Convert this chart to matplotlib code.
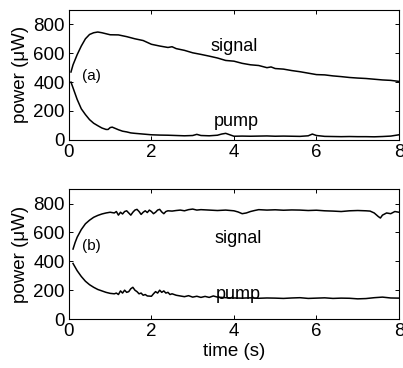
import matplotlib
matplotlib.use("Agg")
import matplotlib.pyplot as plt

plt.rcParams['font.family'] = ['Liberation Sans', 'DejaVu Sans']

# panel (a)
a_sig_t = [0.05, 0.1, 0.2, 0.3, 0.4, 0.5, 0.6, 0.7, 0.8, 0.9, 1.0, 1.2, 1.4, 1.6, 1.8, 2.0, 2.2, 2.4, 2.5,
           2.6, 2.8, 3.0, 3.2, 3.4, 3.6, 3.8, 4.0, 4.2, 4.4, 4.6, 4.8, 4.9, 5.0, 5.2, 5.4, 5.6, 5.8, 6.0,
           6.2, 6.4, 6.6, 6.8, 7.0, 7.2, 7.4, 7.6, 7.8, 8.0]
a_sig = [470, 520, 590, 650, 700, 730, 742, 747, 742, 735, 728, 727, 715, 700, 688, 662, 650, 640, 645,
         632, 620, 603, 592, 580, 567, 550, 545, 530, 520, 515, 500, 505, 494, 490, 480, 472, 462, 452,
         450, 443, 438, 432, 428, 425, 420, 415, 412, 405]

a_pump_t = [0.05, 0.1, 0.2, 0.3, 0.4, 0.5, 0.6, 0.7, 0.8, 0.9, 0.95, 1.0, 1.05, 1.1, 1.2, 1.3, 1.4, 1.5,
            1.6, 1.8, 2.0, 2.2, 2.4, 2.6, 2.8, 3.0, 3.1, 3.2, 3.4, 3.6, 3.7, 3.8, 3.9, 4.0, 4.2, 4.4,
            4.6, 4.8, 5.0, 5.2, 5.4, 5.6, 5.8, 5.9, 6.0, 6.2, 6.4, 6.6, 6.8, 7.0, 7.2, 7.4, 7.6, 7.8, 8.0]
a_pump = [400, 360, 280, 215, 175, 140, 115, 98, 82, 72, 72, 85, 88, 82, 70, 60, 55, 48,
          45, 40, 35, 33, 32, 30, 28, 30, 38, 30, 28, 32, 40, 45, 35, 25, 26, 25,
          26, 27, 25, 26, 25, 24, 28, 40, 30, 24, 23, 22, 23, 22, 22, 21, 23, 26, 35]

# panel (b)
b_sig_t = [0.1, 0.15, 0.2, 0.3, 0.4, 0.5, 0.6, 0.7, 0.8, 0.9, 1.0, 1.1, 1.15, 1.2, 1.25, 1.3, 1.35, 1.4,
           1.45, 1.5, 1.55, 1.6, 1.65, 1.7, 1.75, 1.8, 1.85, 1.9, 1.95, 2.0, 2.05, 2.1, 2.15, 2.2, 2.25,
           2.3, 2.35, 2.4, 2.5, 2.6, 2.7, 2.8, 2.9, 3.0, 3.1, 3.2, 3.4, 3.6, 3.8, 4.0, 4.1, 4.2, 4.3,
           4.4, 4.5, 4.6, 4.8, 5.0, 5.2, 5.4, 5.6, 5.8, 6.0, 6.2, 6.4, 6.6, 6.8, 7.0, 7.2, 7.3, 7.4,
           7.5, 7.55, 7.6, 7.7, 7.8, 7.9, 8.0]
b_sig = [485, 530, 567, 620, 660, 685, 705, 718, 728, 735, 740, 735, 745, 720, 740, 728, 745, 750,
         735, 720, 740, 755, 760, 745, 725, 740, 750, 738, 755, 745, 730, 740, 755, 760, 742,
         730, 745, 750, 748, 752, 755, 750, 758, 762, 755, 758, 755, 752, 755, 750, 742, 730, 735,
         745, 752, 758, 755, 757, 754, 756, 755, 752, 754, 750, 748, 745, 750, 752, 750, 748, 735,
         710, 700, 720, 735, 730, 745, 740]

b_pump_t = [0.1, 0.15, 0.2, 0.3, 0.4, 0.5, 0.6, 0.7, 0.8, 0.9, 1.0, 1.1, 1.15, 1.2, 1.25, 1.3, 1.35,
            1.4, 1.45, 1.5, 1.55, 1.6, 1.65, 1.7, 1.75, 1.8, 1.85, 1.9, 2.0, 2.05, 2.1, 2.15, 2.2,
            2.25, 2.3, 2.35, 2.4, 2.45, 2.5, 2.6, 2.7, 2.8, 2.9, 3.0, 3.1, 3.2, 3.3, 3.4, 3.5, 3.6,
            3.7, 3.8, 4.0, 4.2, 4.4, 4.6, 4.8, 5.0, 5.2, 5.4, 5.6, 5.8, 6.0, 6.2, 6.4, 6.6, 6.8,
            7.0, 7.2, 7.4, 7.6, 7.8, 8.0]
b_pump = [385, 360, 335, 295, 262, 238, 220, 205, 195, 185, 178, 175, 180, 170, 195, 180, 200,
          185, 190, 210, 220, 200, 190, 175, 180, 165, 170, 160, 158, 175, 190, 180, 200,
          185, 195, 180, 185, 170, 175, 165, 160, 155, 162, 152, 158, 150, 157, 150, 160, 152,
          150, 148, 146, 145, 147, 144, 146, 145, 143, 146, 148, 143, 145, 147, 143, 145, 144,
          140, 142, 148, 152, 146, 145]

x_ticks = [0, 2, 4, 6, 8]
y_ticks = [0, 200, 400, 600, 800]

fig = plt.figure(figsize=(4.03, 3.68), dpi=100)
ax1 = fig.add_axes([0.171, 0.620, 0.819, 0.353])
ax2 = fig.add_axes([0.171, 0.133, 0.819, 0.353])

panels = [
    (ax1, a_sig_t, a_sig, a_pump_t, a_pump, "(a)", (4.0, 650), (4.05, 128), (0.55, 440)),
    (ax2, b_sig_t, b_sig, b_pump_t, b_pump, "(b)", (4.1, 555), (4.1, 170), (0.55, 508)),
]

for ax, st, sv, pt, pv, tag, sig_pos, pump_pos, tag_pos in panels:
    ax.plot(st, sv, color="black", lw=1.1)
    ax.plot(pt, pv, color="black", lw=1.1)
    ax.set_xlim(0, 8)
    ax.set_ylim(0, 900)
    ax.set_xticks(x_ticks)
    ax.set_yticks(y_ticks)
    ax.tick_params(direction="in", top=True, right=True, labelsize=13.5, length=3, pad=3, width=0.7)
    for s in ax.spines.values():
        s.set_linewidth(0.8)
    ax.set_ylabel("power (μW)", fontsize=13.5, labelpad=3)
    ax.text(sig_pos[0], sig_pos[1], "signal", fontsize=13, ha="center", va="center")
    ax.text(pump_pos[0], pump_pos[1], "pump", fontsize=13, ha="center", va="center")
    ax.text(tag_pos[0], tag_pos[1], tag, fontsize=11, ha="center", va="center")

ax2.set_xlabel("time (s)", fontsize=13.5, labelpad=2)

fig.savefig("out.png", dpi=100)
